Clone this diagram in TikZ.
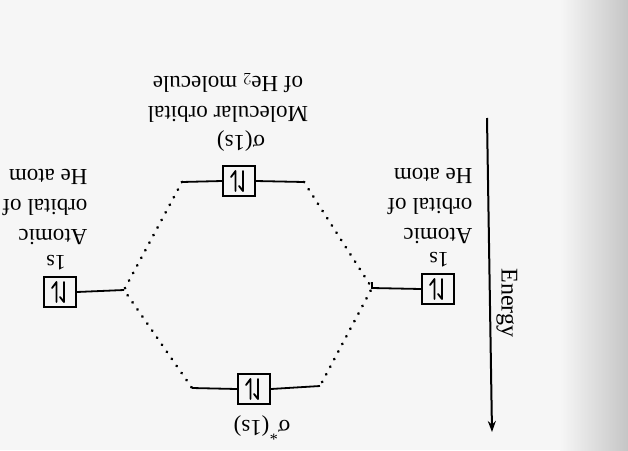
\documentclass[tikz,border=0pt]{standalone}
\usepackage{fontspec}
\setmainfont{Liberation Serif}
\usetikzlibrary{arrows.meta}
\begin{document}
\begin{tikzpicture}[x=1pt,y=-1pt,
  orb/.style={draw,line width=1.8pt,minimum width=32pt,minimum height=30pt,inner sep=0pt},
  lvl/.style={line width=1.8pt},
  corr/.style={line width=3pt,dash pattern=on 0.1pt off 8.5pt,line cap=round},
  lbl/.style={font=\fontsize{23}{30}\selectfont,rotate=180,inner sep=0pt},
  small/.style={font=\fontsize{22}{24}\selectfont,rotate=180,inner sep=0pt},
  glyph/.style={line width=1.8pt,line cap=round,line join=round}]
\useasboundingbox (0,0) rectangle (628,450);
\fill[white!93!gray] (0,0) rectangle (628,450);
\shade[left color=white!93!gray,right color=gray!45] (560,0) rectangle (628,450);
\newcommand\mypair[1]{%
  \begin{scope}[shift={(#1.center)}]
    \draw[glyph] (-3.5,10) -- (-3.5,-10) -- (-8,-4);
    \draw[glyph] (4,-10) -- (4,10) -- (0,5);
  \end{scope}}
% boxes
\node[orb] (aR) at (438,289) {};
\node[orb] (aL) at (60,292) {};
\node[orb] (sg) at (239,181) {};
\node[orb] (ss) at (254,389) {};
\mypair{aR}\mypair{aL}\mypair{sg}\mypair{ss}
% level end points
\coordinate (aRe) at (372,288);
\coordinate (aLe) at (124,290);
\coordinate (sgL) at (182,182);
\coordinate (sgR) at (304,182);
\coordinate (ssL) at (192,388);
\coordinate (ssR) at (320,386);
\draw[lvl] (aR.west) -- (aRe) -- ++(0,-6);
\draw[lvl] (aL.east) -- (aLe);
\draw[lvl] (sgL) -- (sg.west) (sg.east) -- (sgR);
\draw[lvl] (ssL) -- (ss.west) (ss.east) -- (ssR);
% correlation lines
\draw[corr] (sgL) -- (aLe) -- (ssL);
\draw[corr] (sgR) -- (aRe) -- (ssR);
% labels
\node[small] (l1R) at (439,260) {1s};
\node[small] (l1L) at (56,263) {1s};
\node[lbl,align=left] (tR) at (430,206) {Atomic\\orbital of\\He atom};
\node[lbl,align=left] (tL) at (45,207) {Atomic\\orbital of\\He atom};
\node[lbl] (lsg) at (241,141) {σ(1s)};
\node[lbl,align=center] (tM) at (228,98) {Molecular orbital\\of He$_2$ molecule};
\node[lbl] (lss) at (262,428) {σ\textsuperscript{*}(1s)};
% energy axis
\coordinate (e1) at (487,118);
\coordinate (e2) at (492,432);
\draw[line width=2pt,-{Stealth[length=11pt,width=8pt]}] (e1) -- (e2);
\node[font=\fontsize{24}{26}\selectfont,rotate=-90,inner sep=0pt] (en) at (507,303) {Energy};
\end{tikzpicture}
\end{document}
